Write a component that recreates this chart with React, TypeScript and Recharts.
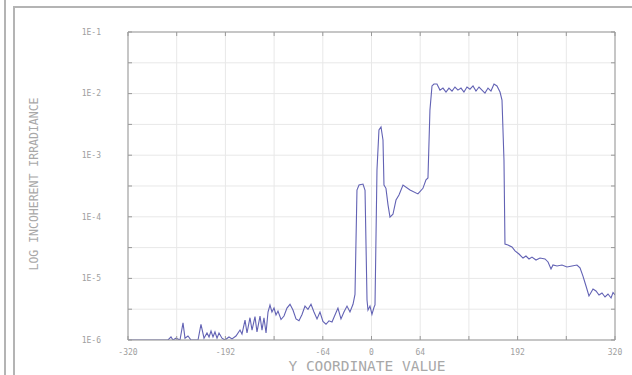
import React from 'react';
import { LineChart, Line, XAxis, YAxis, CartesianGrid } from 'recharts';

const xTicks = [-320, -256, -192, -128, -64, 0, 64, 128, 192, 256, 320];
const xTickLabels = ['-320', '', '-192', '', '-64', '0', '64', '', '192', '', '320'];
const yTicks = [1e-6, 3.1623e-6, 1e-5, 3.1623e-5, 1e-4, 3.1623e-4, 1e-3, 3.1623e-3, 1e-2, 3.1623e-2, 1e-1];

const xs = [
  -320, -267.4, -263.5, -260.9, -256.9, -251.7, -247.7, -245.1, -241.2, -237.2,
  -228, -224.1, -220.1, -216.2, -213.5, -210.9, -208.3, -205.7, -203.0, -200.4,
  -196.5, -192.5, -187.3, -183.3, -178.1, -172.8, -170.2, -166.2, -163.6, -159.7,
  -157.0, -153.1, -150.5, -146.5, -143.9, -141.3, -138.6, -136.0, -133.4, -130.8,
  -128.1, -125.5, -122.9, -118.9, -115.0, -111.1, -107.1, -103.2, -99.2, -95.3,
  -91.3, -87.4, -83.5, -79.5, -75.6, -71.6, -67.7, -63.8, -59.8, -55.9,
  -51.9, -48.0, -44.1, -40.1, -36.2, -32.2, -28.3, -24.3, -21.7, -19.1,
  -16.4, -11.2, -8.5, -5.9, -4.6, -2.0, 0.6, 3.3, 4.6, 7.2,
  9.8, 12.5, 15.1, 16.4, 19.0, 21.7, 24.3, 28.2, 32.2, 36.1,
  41.4, 50.6, 61, 67.6, 71.6, 74.2, 76.8, 79.5, 82.1, 86.0,
  90.0, 93.9, 97.9, 101.8, 105.8, 109.7, 113.6, 117.6, 121.5, 125.5,
  129.4, 133.4, 137.3, 141.3, 145.2, 149.1, 153.1, 157.0, 161.0, 164.9,
  168.9, 171.5, 174.1, 175.4, 179.4, 184.6, 188.6, 193.8, 199.1, 203.0,
  207.0, 210.9, 216.2, 221.4, 228, 232.0, 235.9, 238.5, 243.8, 250.3,
  256.9, 263.5, 270.0, 274.0, 277.9, 281.9, 285.8, 288.5, 291.1, 295.0,
  299.0, 302.9, 306.9, 310.8, 314.8, 317.4, 320,
];

const irradiance = [
  1e-6, 1e-6, 1.12e-6, 1e-6, 1.07e-6, 1e-6, 1.9e-6, 1.07e-6, 1.16e-6, 1e-6,
  1e-6, 1.8e-6, 1.07e-6, 1.3e-6, 1.12e-6, 1.4e-6, 1.12e-6, 1.35e-6, 1.07e-6, 1.3e-6,
  1.07e-6, 1e-6, 1.12e-6, 1.04e-6, 1.16e-6, 1.45e-6, 1.25e-6, 2.1e-6, 1.3e-6, 2.3e-6,
  1.45e-6, 2.4e-6, 1.35e-6, 2.45e-6, 1.45e-6, 2.3e-6, 1.3e-6, 2.85e-6, 3.7e-6, 2.85e-6,
  3.3e-6, 2.55e-6, 2.95e-6, 2.15e-6, 2.45e-6, 3.3e-6, 3.8e-6, 3.07e-6, 2.2e-6, 2.05e-6,
  2.6e-6, 3.55e-6, 3.15e-6, 3.8e-6, 2.85e-6, 2.2e-6, 2.85e-6, 2.0e-6, 1.8e-6, 2.05e-6,
  1.96e-6, 2.55e-6, 3.3e-6, 2.2e-6, 2.85e-6, 3.55e-6, 2.85e-6, 3.8e-6, 5.5e-6, 2.72e-4,
  3.28e-4, 3.4e-4, 2.7e-4, 4.46e-6, 3.07e-6, 3.55e-6, 2.6e-6, 3.4e-6, 3.7e-6, 5.75e-4,
  2.56e-3, 2.87e-3, 1.77e-3, 3.28e-4, 2.9e-4, 1.56e-4, 9.9e-5, 1.1e-4, 1.87e-4, 2.26e-4,
  3.28e-4, 2.72e-4, 2.35e-4, 2.9e-4, 3.98e-4, 4.27e-4, 5.4e-3, 1.33e-2, 1.43e-2, 1.43e-2,
  1.14e-2, 1.23e-2, 1.06e-2, 1.23e-2, 1.1e-2, 1.28e-2, 1.14e-2, 1.23e-2, 1.06e-2, 1.28e-2,
  1.18e-2, 1.33e-2, 1.1e-2, 1.28e-2, 1.14e-2, 1.02e-2, 1.23e-2, 1.1e-2, 1.43e-2, 1.33e-2,
  1.06e-2, 7.87e-3, 8.36e-4, 3.6e-5, 3.48e-5, 3.23e-5, 2.79e-5, 2.49e-5, 2.14e-5, 2.31e-5,
  2.07e-5, 2.22e-5, 1.99e-5, 2.14e-5, 2.07e-5, 1.85e-5, 1.42e-5, 1.65e-5, 1.59e-5, 1.65e-5,
  1.53e-5, 1.59e-5, 1.65e-5, 1.48e-5, 1.09e-5, 7.53e-6, 5.18e-6, 5.9e-6, 6.73e-6, 6.24e-6,
  5.38e-6, 5.79e-6, 4.99e-6, 5.58e-6, 4.81e-6, 5.9e-6, 5.38e-6,
];

const data = xs.map((x, i) => ({ x, y: irradiance[i] }));

const FONT = '"DejaVu Sans Mono", monospace';
const GREY = '#a0a0a0';
const AXIS = '#999999';

const xFmt = (v: number) => {
  const i = xTicks.indexOf(v);
  return i >= 0 ? xTickLabels[i] : '';
};
const yFmt = (v: number) => {
  const e = Math.log10(v);
  const r = Math.round(e);
  return Math.abs(e - r) < 1e-4 ? `1E${r}` : '';
};
const blank = () => '';

export default function App() {
  return (
    <div style={{ position: 'absolute', left: 0, top: 0, width: 632, height: 375, background: '#fff', overflow: 'hidden' }}>
      <div style={{ position: 'absolute', left: 4, top: 0, width: 2, height: 375, background: '#b4b4b4' }} />
      <div style={{ position: 'absolute', left: 13, top: 6, width: 2, height: 369, background: '#b4b4b4' }} />
      <div style={{ position: 'absolute', left: 13, top: 6, width: 619, height: 2, background: '#b4b4b4' }} />
      <div style={{ position: 'absolute', left: 0, top: 0 }}>
        <LineChart width={632} height={375} data={data} margin={{ top: 22, right: 7, bottom: 5, left: 8 }}>
          <CartesianGrid stroke="#e8e8e8" strokeWidth={1} />
          <XAxis
            dataKey="x"
            type="number"
            domain={[-320, 320]}
            ticks={xTicks}
            tickFormatter={xFmt}
            height={30}
            tickSize={-4}
            tickMargin={13}
            stroke={AXIS}
            tick={{ fill: GREY, fontSize: 8, fontFamily: FONT }}
            interval={0}
            allowDataOverflow
          />
          <XAxis
            xAxisId="top"
            orientation="top"
            dataKey="x"
            type="number"
            domain={[-320, 320]}
            ticks={xTicks}
            tickFormatter={blank}
            height={10}
            tickSize={-4}
            stroke={AXIS}
            interval={0}
            allowDataOverflow
          />
          <YAxis
            type="number"
            scale="log"
            domain={[1e-6, 1e-1]}
            ticks={yTicks}
            tickFormatter={yFmt}
            width={120}
            tickSize={-4}
            tickMargin={31}
            stroke={AXIS}
            tick={{ fill: GREY, fontSize: 8, fontFamily: FONT }}
            interval={0}
            allowDataOverflow
          />
          <YAxis
            yAxisId="right"
            orientation="right"
            type="number"
            scale="log"
            domain={[1e-6, 1e-1]}
            ticks={yTicks}
            tickFormatter={blank}
            width={10}
            tickSize={-4}
            stroke={AXIS}
            interval={0}
            allowDataOverflow
          />
          <Line
            type="linear"
            dataKey="y"
            stroke="#6262b4"
            strokeWidth={1.1}
            dot={false}
            isAnimationActive={false}
          />
        </LineChart>
      </div>
      <div
        style={{
          position: 'absolute', left: 34, top: 184, transform: 'translate(-50%, -50%) rotate(-90deg)',
          whiteSpace: 'nowrap', fontFamily: FONT, fontSize: 11.5, color: '#a8a8a8',
        }}
      >
        LOG INCOHERENT IRRADIANCE
      </div>
      <div
        style={{
          position: 'absolute', left: 367, top: 366, transform: 'translate(-50%, -50%)',
          whiteSpace: 'nowrap', fontFamily: FONT, fontSize: 14.5, color: '#a8a8a8',
        }}
      >
        Y COORDINATE VALUE
      </div>
    </div>
  );
}
